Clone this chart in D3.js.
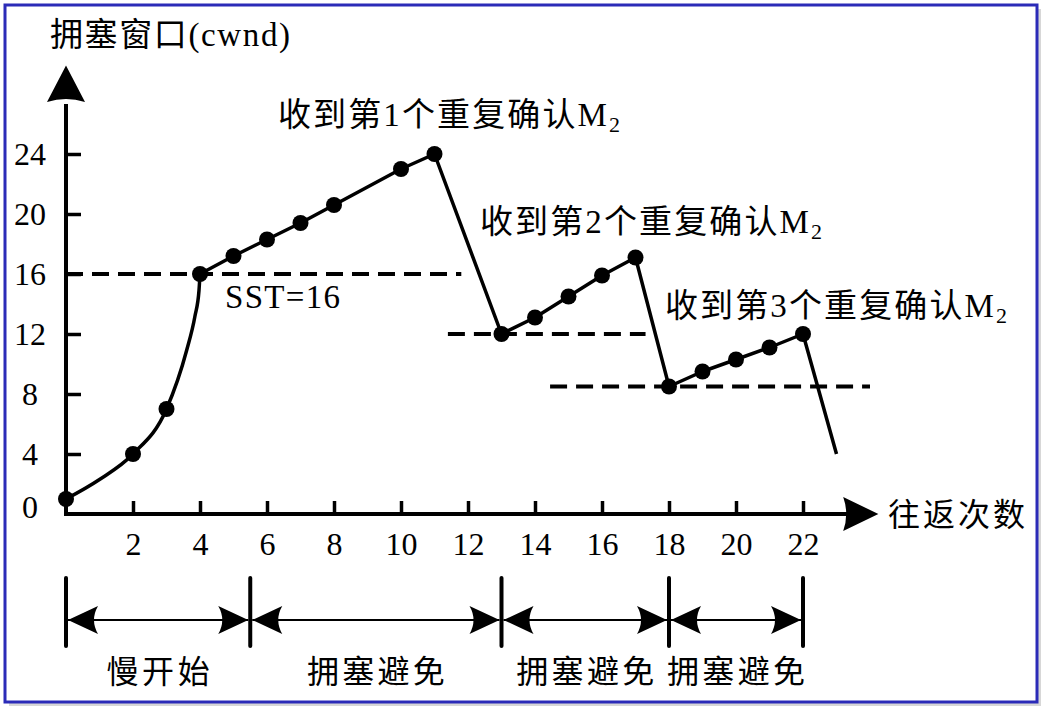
<!DOCTYPE html>
<html>
<head>
<meta charset="utf-8">
<script src="https://cdn.jsdelivr.net/npm/d3@7"></script>
<style>
  html, body { margin: 0; padding: 0; background: #ffffff; }
  svg { display: block; }
</style>
</head>
<body>
<svg id="chart" width="1043" height="712"></svg>
<script>
// ---------------- data ----------------
const xTickValues = [2, 4, 6, 8, 10, 12, 14, 16, 18, 20, 22];
const yTickValues = [0, 4, 8, 12, 16, 20, 24];

// slow start points (dots) and the traced curve through them
const slowStartDots = [[0, 1], [2, 4], [3, 7], [4, 16]];
const slowStartCurve = [[0, 1], [1, 2.3], [2, 4], [3, 7], [3.6, 10.9], [3.85, 13.2], [3.97, 14.9], [4, 16]];

// congestion-avoidance / fast-recovery polyline
const cwndX = [4, 5, 6, 7, 8, 10, 11, 13, 14, 15, 16, 17, 18, 19, 20, 21, 22, 23];
const cwndY = [16, 17.2, 18.3, 19.4, 20.6, 23, 24, 12, 13.1, 14.5, 15.9, 17.1, 8.5, 9.5, 10.3, 11.1, 12, 4];
const cwndDotCount = 17; // the last point (23,4) has no dot

// thresholds (dashed lines)
const threshValue = [16, 12, 8.5];
const threshFrom = [0, 11.4, 14.45];
const threshTo = [11.8, 17.3, 24];

// annotations
const noteText = ["收到第1个重复确认M", "收到第2个重复确认M", "收到第3个重复确认M"];
const noteSub = ["2", "2", "2"];

// phases
const phaseBounds = [0, 5.5, 13, 18, 22];
const phaseNames = ["慢开始", "拥塞避免", "拥塞避免", "拥塞避免"];

const yTitle = "拥塞窗口(cwnd)";
const xTitle = "往返次数";
const sstLabel = "SST=16";

// ---------------- drawing ----------------
const svg = d3.select("#chart");
const CJK = "'Noto Sans CJK SC', 'Liberation Serif', serif";
const SERIF = "'Liberation Serif', 'Times New Roman', 'Noto Sans CJK SC', serif";

const x = d3.scaleLinear().domain([0, 22]).range([66, 803]);
const y = d3.scaleLinear().domain([0, 24]).range([514, 154]);

// frame with shadow
svg.append("rect").attr("x", 9).attr("y", 9).attr("width", 1032).attr("height", 697)
  .attr("fill", "#bdbdbd").attr("opacity", 0.6);
svg.append("rect").attr("x", 5).attr("y", 5).attr("width", 1032).attr("height", 697)
  .attr("fill", "#ffffff").attr("stroke", "#2b2bb8").attr("stroke-width", 3);

// dashed thresholds
threshValue.forEach((v, i) => {
  svg.append("line")
    .attr("x1", x(threshFrom[i])).attr("x2", x(threshTo[i]))
    .attr("y1", y(v)).attr("y2", y(v))
    .attr("stroke", "#000").attr("stroke-width", 4)
    .attr("stroke-dasharray", "17 9");
});

// axes
const xAxisG = svg.append("g").attr("transform", `translate(0,${y(0)})`)
  .call(d3.axisBottom(x).tickValues(xTickValues).tickSize(-13).tickPadding(0).tickFormat(d3.format("d")));
xAxisG.select(".domain").remove();
xAxisG.selectAll(".tick line").attr("stroke", "#000").attr("stroke-width", 3.5);
xAxisG.selectAll(".tick text").attr("font-family", SERIF).attr("font-size", 32)
  .attr("fill", "#000").attr("y", 31).attr("dy", "0.32em");

const yAxisG = svg.append("g").attr("transform", `translate(${x(0)},0)`)
  .call(d3.axisLeft(y).tickValues(yTickValues).tickSize(-15).tickPadding(0).tickFormat(d3.format("d")));
yAxisG.select(".domain").remove();
yAxisG.selectAll(".tick line").attr("stroke", "#000").attr("stroke-width", 3.5)
  .attr("display", d => d === 0 ? "none" : null);
yAxisG.selectAll(".tick text").attr("font-family", SERIF).attr("font-size", 32)
  .attr("fill", "#000").attr("text-anchor", "middle").attr("x", -36)
  .attr("dy", d => d === 0 ? "0.12em" : "0.32em");

// axis lines + arrowheads
const yTop = y(27.6), yTip = y(29.9);
svg.append("line").attr("x1", x(0)).attr("x2", x(0)).attr("y1", y(0) + 2).attr("y2", yTop + 4)
  .attr("stroke", "#000").attr("stroke-width", 4);
svg.append("path")
  .attr("d", `M${x(0)},${yTip} L${x(0) + 19},${yTop + 2} Q${x(0)},${yTop - 4} ${x(0) - 19},${yTop + 2} Z`)
  .attr("fill", "#000");
const xEnd = x(23.2), xTip = x(24.25);
svg.append("line").attr("x1", x(0) - 2).attr("x2", xEnd + 4).attr("y1", y(0)).attr("y2", y(0))
  .attr("stroke", "#000").attr("stroke-width", 4);
svg.append("path")
  .attr("d", `M${xTip},${y(0)} L${xEnd},${y(0) - 17} Q${xEnd + 6},${y(0)} ${xEnd},${y(0) + 17} Z`)
  .attr("fill", "#000");

// slow start curve
svg.append("path").datum(slowStartCurve)
  .attr("d", d3.line().x(d => x(d[0])).y(d => y(d[1])).curve(d3.curveMonotoneX))
  .attr("fill", "none").attr("stroke", "#000").attr("stroke-width", 3.5);

// polyline
const cwnd = cwndX.map((v, i) => [v, cwndY[i]]);
svg.append("path").datum(cwnd)
  .attr("d", d3.line().x(d => x(d[0])).y(d => y(d[1])))
  .attr("fill", "none").attr("stroke", "#000").attr("stroke-width", 3.5)
  .attr("stroke-linejoin", "round");

// dots
const dots = slowStartDots.concat(cwnd.slice(1, cwndDotCount));
svg.selectAll("circle.dot").data(dots).enter().append("circle")
  .attr("class", "dot").attr("cx", d => x(d[0])).attr("cy", d => y(d[1])).attr("r", 8)
  .attr("fill", "#000");

// titles
svg.append("text").attr("x", 50).attr("y", 46).attr("font-family", SERIF).attr("font-size", 33)
  .attr("textLength", 240).attr("lengthAdjust", "spacing")
  .text(yTitle);
svg.append("text").attr("x", 888).attr("y", 526).attr("font-family", CJK).attr("font-size", 32)
  .attr("textLength", 137).attr("lengthAdjust", "spacing")
  .text(xTitle);

// SST label
svg.append("text").attr("x", 225).attr("y", 308).attr("font-family", SERIF).attr("font-size", 33)
  .attr("textLength", 115).attr("lengthAdjust", "spacing")
  .text(sstLabel);

// annotations
const noteX = [278, 480, 665];
const noteY = [126, 233, 317];
noteText.forEach((t, i) => {
  const tx = svg.append("text").attr("x", noteX[i]).attr("y", noteY[i])
    .attr("font-family", SERIF).attr("font-size", 33)
    .attr("textLength", 342).attr("lengthAdjust", "spacing");
  tx.append("tspan").text(t);
  tx.append("tspan").attr("font-size", 22).attr("dy", 6).text(noteSub[i]);
});

// phases
const lineY = 620, barTop = 578, barBottom = 646;
phaseBounds.forEach(b => {
  svg.append("line").attr("x1", x(b)).attr("x2", x(b)).attr("y1", barTop).attr("y2", barBottom)
    .attr("stroke", "#000").attr("stroke-width", 4).attr("stroke-linecap", "round");
});
function arrowHead(tipX, dir) {
  const L = 30, H = 14;
  return `M${tipX},${lineY} L${tipX + dir * L},${lineY - H} Q${tipX + dir * 22},${lineY} ${tipX + dir * L},${lineY + H} Z`;
}
phaseNames.forEach((name, i) => {
  const a = x(phaseBounds[i]) + 2, b = x(phaseBounds[i + 1]) - 2;
  svg.append("line").attr("x1", a).attr("x2", b).attr("y1", lineY).attr("y2", lineY)
    .attr("stroke", "#000").attr("stroke-width", 2);
  svg.append("path").attr("d", arrowHead(a, 1)).attr("fill", "#000");
  svg.append("path").attr("d", arrowHead(b, -1)).attr("fill", "#000");
  const cx = (x(phaseBounds[i]) + x(phaseBounds[i + 1])) / 2;
  const w = name.length * 34.5;
  svg.append("text").attr("x", cx - w / 2).attr("y", 683)
    .attr("font-family", CJK).attr("font-size", 32)
    .attr("textLength", w).attr("lengthAdjust", "spacing")
    .text(name);
});
</script>
</body>
</html>
